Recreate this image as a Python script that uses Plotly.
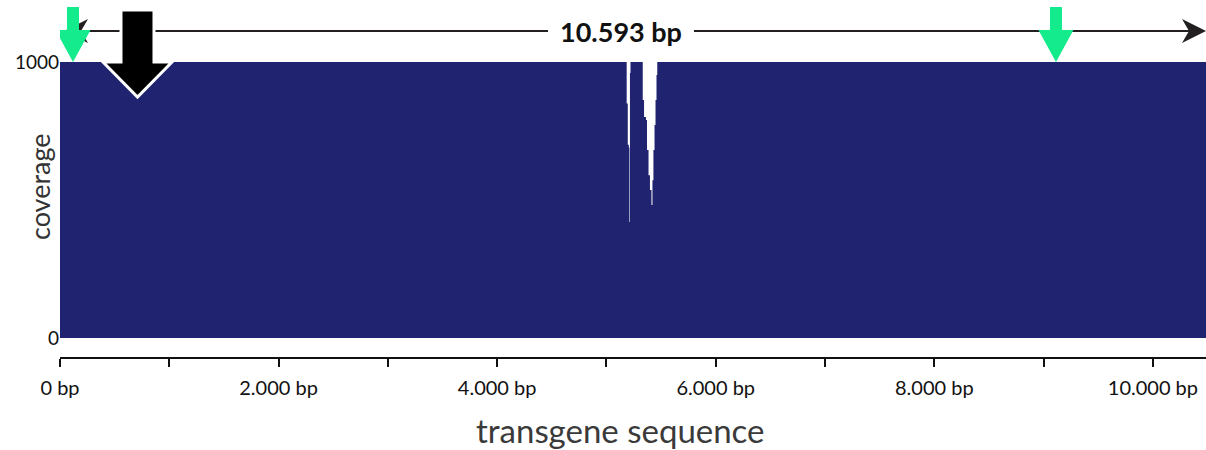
import plotly.graph_objects as go

# ---------------- data ----------------
cov_pos = [0, 5185, 5195, 5205, 5210, 5215, 5220, 5332, 5344, 5362, 5371,
           5385, 5398, 5412, 5421, 5430, 5440, 5449, 5458, 5465, 10593]
cov_val = [1000, 850, 700, 690, 420, 960, 1000, 862, 801, 790, 681,
           590, 536, 482, 572, 681, 772, 862, 953, 1000, 1000]

x_tickvals = [0, 1000, 2000, 3000, 4000, 5000, 6000, 7000, 8000, 9000, 10000]
x_ticktext = ["0 bp", "", "2.000 bp", "", "4.000 bp", "", "6.000 bp", "",
              "8.000 bp", "", "10.000 bp"]
y_tickvals = [0, 1000]
y_ticktext = ["0", "1000"]

green_arrows_bp = [119, 9113]
black_arrows_bp = [709]
span_label = "10.593 bp"
span_label_bp = 5133
max_cov = 1000

# ---------------- layout constants ----------------
W, H = 1206, 450
ML, MR, MT, MB = 60, 0, 0, 93
plot_w = W - ML - MR
plot_h = H - MT - MB
px_per_bp = 0.10929
x_max = plot_w / px_per_bp
cov_top_px = 62          # pixel of coverage 1000 from top
cov_bottom_px = 338      # pixel of coverage 0
px_per_cov = (cov_bottom_px - cov_top_px) / max_cov
y_max = cov_bottom_px / px_per_cov
y_min = -(plot_h - cov_bottom_px) / px_per_cov

NAVY = "#1f2370"
GREEN = "#14eb8c"
FONT = "Lato, 'Open Sans', sans-serif"


def dx(px):
    return px / px_per_bp


def ycov(px_from_top):
    return (cov_bottom_px - px_from_top) / px_per_cov


fig = go.Figure()
fig.add_trace(go.Scatter(
    x=cov_pos, y=cov_val, mode="lines", line=dict(width=0, shape="hv"),
    fill="tozeroy", fillcolor=NAVY, hoverinfo="skip", showlegend=False))

shapes = []
# horizontal length line
line_y = ycov(31)
shapes.append(dict(type="line", xref="x", yref="y", x0=dx(6), x1=x_max - dx(3),
                   y0=line_y, y1=line_y, line=dict(color="#231f20", width=2.2)))


def path(points):
    return "M " + " L ".join(f"{a},{b}" for a, b in points) + " Z"


# right arrowhead
tip = x_max
shapes.append(dict(type="path", xref="x", yref="y", fillcolor="#231f20",
                   line=dict(width=0),
                   path=path([(tip, line_y), (tip - dx(24), ycov(19)),
                              (tip - dx(17), line_y), (tip - dx(24), ycov(43))])))
# left arrowhead
ltip = dx(4)
shapes.append(dict(type="path", xref="x", yref="y", fillcolor="#231f20",
                   line=dict(width=0),
                   path=path([(ltip, line_y), (ltip + dx(24), ycov(19)),
                              (ltip + dx(17), line_y), (ltip + dx(24), ycov(43))])))

# black arrow(s)
for b in black_arrows_bp:
    pts = [(b - dx(16.5), ycov(10)), (b + dx(16.5), ycov(10)),
           (b + dx(16.5), max_cov), (b + dx(34.5), max_cov),
           (b, ycov(97)), (b - dx(34.5), max_cov), (b - dx(16.5), max_cov)]
    shapes.append(dict(type="path", xref="x", yref="y", fillcolor="black",
                       line=dict(color="white", width=3), path=path(pts)))

# green arrows
for g in green_arrows_bp:
    pts = [(g - dx(6), ycov(7)), (g + dx(6), ycov(7)),
           (g + dx(6), ycov(30)), (g + dx(17.5), ycov(30)),
           (g, max_cov), (g - dx(17.5), ycov(30)), (g - dx(6), ycov(30))]
    shapes.append(dict(type="path", xref="x", yref="y", fillcolor=GREEN,
                       line=dict(width=0), path=path(pts)))

annotations = [
    dict(x=span_label_bp, y=line_y, xref="x", yref="y", text=f"<b>{span_label}</b>",
         showarrow=False, bgcolor="white", borderpad=12, borderwidth=0,
         font=dict(family=FONT, size=27, color="#111111")),
    dict(x=(39 - ML) / plot_w, y=(plot_h - 187) / plot_h, xref="paper", yref="paper",
         xanchor="center", yanchor="middle",
         text="coverage", textangle=-90, showarrow=False,
         font=dict(family=FONT, size=27, color="#333333")),
    dict(x=(620 - ML) / plot_w, y=-(430 - plot_h) / plot_h, xref="paper", yref="paper",
         xanchor="center", yanchor="middle",
         text="transgene sequence", showarrow=False,
         font=dict(family=FONT, size=33, color="#3a3a3a")),
]

fig.update_layout(
    width=W, height=H, margin=dict(l=ML, r=MR, t=MT, b=MB, autoexpand=False),
    paper_bgcolor="white", plot_bgcolor="white",
    shapes=shapes, annotations=annotations,
    xaxis=dict(range=[0, x_max], tickvals=x_tickvals, ticktext=x_ticktext,
               ticks="outside", ticklen=8, tickwidth=2, tickcolor="#111111",
               showline=True, linewidth=2, linecolor="#111111",
               showgrid=False, zeroline=False, automargin=False,
               ticklabelstandoff=4,
               tickfont=dict(family=FONT, size=20, color="#111111")),
    yaxis=dict(range=[y_min, y_max], tickvals=y_tickvals, ticktext=y_ticktext,
               showline=False, showgrid=False, zeroline=False, ticks="",
               automargin=False,
               tickfont=dict(family=FONT, size=19, color="#111111")),
)

fig.write_html("out.html",
               config=dict(displayModeBar=False),
               post_script="document.body.style.margin='0';"
                           "document.body.style.overflow='hidden';")
